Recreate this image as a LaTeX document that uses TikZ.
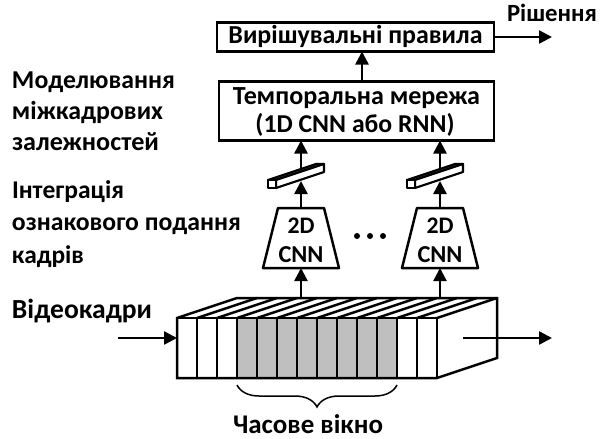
\documentclass[tikz,border=0pt]{standalone}
\usepackage{graphicx}
\usepackage{fontspec}
\setmainfont{Carlito}
\usetikzlibrary{arrows.meta,decorations.pathreplacing,calc}
\newcommand{\fitw}[2]{\resizebox{#1pt}{!}{#2}}
\begin{document}
\begin{tikzpicture}[x=1pt,y=-1pt,
  every node/.style={font=\bfseries\fontsize{21}{25}\selectfont, inner sep=0pt, outer sep=0pt},
  lbl/.style={anchor=base west},
  ctr/.style={anchor=base},
  box/.style={draw, line width=2.5pt},
  ln/.style={line width=2.5pt},
  bar/.style={line width=2.2pt, fill=white, line join=round},
  arr/.style={line width=2.5pt, -{Triangle[length=13pt,width=13pt]}},
  brc/.style={decorate, decoration={brace, mirror, amplitude=22pt, aspect=0.5}, line width=1.5pt}]
\useasboundingbox (0,0) rectangle (603,439);

% left labels
\node[lbl] (m1) at (12,88) {\fitw{163}{Моделювання}};
\node[lbl] (m2) at (12,119) {\fitw{151}{міжкадрових}};
\node[lbl] (m3) at (12,150) {\fitw{147}{залежностей}};
\node[lbl] (i1) at (12,198) {\fitw{112}{Інтеграція}};
\node[lbl] (i2) at (12,230.5) {\fitw{229}{ознакового подання}};
\node[lbl] (i3) at (12,263) {\fitw{72}{кадрів}};
\node[lbl] (v1) at (12,318) {\fitw{140}{Відеокадри}};

% decision box
\node[box, minimum width=277pt, minimum height=29pt] (dec) at (355.5,37) {};
\node[ctr] (dect) at (355.5,44) {\fitw{254}{Вирішувальні правила}};
\coordinate (out) at (552,37);
\draw[arr] (dec.east) -- (out);
\node[lbl] (res) at (507,21) {\fitw{90}{Рішення}};

% temporal box
\node[box, minimum width=275pt, minimum height=59pt] (temp) at (356.5,111) {};
\node[ctr] (tt1) at (356.5,104) {\fitw{247}{Темпоральна мережа}};
\node[ctr] (tt2) at (355,132) {\fitw{199}{(1D CNN або RNN)}};
\draw[arr] ([xshift=5.5pt]temp.north) -- ([xshift=5.5pt]temp.north |- dec.south);

% CNN branches
\foreach \cx/\n in {301/1,440/2}{
  \node[minimum width=76pt, minimum height=60pt] (cnn\n) at (\cx,238) {};
  \draw[ln, line join=round] ([xshift=-23pt]cnn\n.north) -- ([xshift=23pt]cnn\n.north)
     -- (cnn\n.south east) -- (cnn\n.south west) -- cycle;
  \node[ctr] (c\n a) at (\cx,233) {\fitw{27}{2D}};
  \node[ctr] (c\n b) at (\cx,262) {\fitw{45}{CNN}};
  % feature bar
  \draw[bar] (\cx-33,180) -- (\cx+15,164) -- (\cx+23,164) -- (\cx-25,180) -- cycle;
  \draw[bar] (\cx-25,180) -- (\cx+23,164) -- (\cx+23,172) -- (\cx-25,188) -- cycle;
  \draw[bar] (\cx-33,180) rectangle (\cx-25,188);
  \coordinate (pb\n) at (\cx,181);
  \coordinate (pt\n) at (\cx,169);
  \coordinate (st\n) at (\cx,298);
  \draw[arr] (cnn\n.north) -- (pb\n);
  \draw[arr] (pt\n) -- (pt\n |- temp.south);
  \draw[arr] (st\n) -- (cnn\n.south);
}
\foreach \x in {357,370,383} \fill (\x,236) circle (3pt);

% frame stack
\fill[gray!50] (237,318) rectangle (397,378);
\draw[ln, line join=miter] (177,318) -- (237,298) -- (497,298) -- (497,358) -- (437,378) -- (177,378) -- cycle;
\draw[ln] (177,318) -- (437,318) -- (437,378);
\draw[ln] (437,318) -- (497,298);
\foreach \k in {1,...,12}{
  \draw[ln] (177+20*\k,318) -- (177+20*\k,378);
  \draw[ln] (177+20*\k,318) -- (237+20*\k,298);
}
\coordinate (vin) at (118,338);
\coordinate (sin) at (177,338);
\draw[arr] (vin) -- (sin);
\coordinate (so0) at (463,338);
\coordinate (so1) at (552,338);
\draw[arr] (so0) -- (so1);

% window brace
\coordinate (b0) at (237,385);
\coordinate (b1) at (397,385);
\draw[brc] (b0) -- (b1);
\node[ctr] (win) at (308,433) {\fitw{150}{Часове вікно}};
\end{tikzpicture}
\end{document}
